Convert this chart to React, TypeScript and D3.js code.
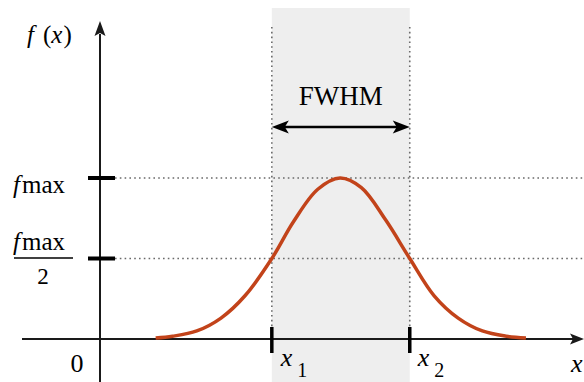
import React from 'react';
import * as d3 from 'd3';

const W = 584;
const H = 382;

// curve samples (x in axis units, y as a fraction of f_max)
const curveX = [1.15, 1.5, 2.0, 2.5, 3.0, 3.55, 4.0, 4.5, 4.96, 5.4, 5.9, 6.4, 6.9, 7.4, 7.9, 8.4, 8.8];
const curveY = [0.006, 0.017, 0.05, 0.13, 0.27, 0.5, 0.73, 0.93, 1, 0.94, 0.74, 0.5, 0.27, 0.13, 0.05, 0.017, 0.006];
// half maximum crossings x1, x2
const fwhmX = [3.55, 6.4];
// f_max and f_max/2
const levels = [1, 0.5];

const serif = '"Liberation Serif", "Times New Roman", serif';
const ink = '#1a1a1a';
const txt = { fontFamily: serif };

export default function App() {
  const x = d3.scaleLinear().domain([0, 10]).range([100, 584]);
  const y = d3.scaleLinear().domain([0, 1]).range([339, 178]);

  const line = d3.line<number>()
    .x((d, i) => x(curveX[i]))
    .y(d => y(d))
    .curve(d3.curveCatmullRom.alpha(0.5));

  const x0 = x(0);
  const y0 = y(0);
  const [x1, x2] = fwhmX.map(v => x(v));
  const arrowY = 127;

  return (
    <svg width={W} height={H} style={{ position: 'absolute', left: 0, top: 0, background: '#fff' }}>
      {/* shaded FWHM band */}
      <rect x={x1} y={8} width={x2 - x1} height={H - 8} fill="#eeeeee" />

      {/* dotted guide lines */}
      {fwhmX.map((v, i) => (
        <line key={'v' + i} x1={x(v)} x2={x(v)} y1={27} y2={y0 - 12}
          stroke="#6a6a6a" strokeWidth={1.6} strokeDasharray="1.6,3.2" />
      ))}
      {levels.map((v, i) => (
        <line key={'h' + i} x1={x0 + 15} x2={W} y1={y(v)} y2={y(v)}
          stroke="#6a6a6a" strokeWidth={1.6} strokeDasharray="1.6,3.2" />
      ))}

      {/* axes */}
      <line x1={22} x2={W - 10} y1={y0} y2={y0} stroke={ink} strokeWidth={2} />
      <path d={`M${W},${y0} L${W - 14},${y0 - 5.5} L${W - 11},${y0} L${W - 14},${y0 + 5.5} Z`} fill={ink} />
      <line x1={x0} x2={x0} y1={H} y2={34} stroke={ink} strokeWidth={2} />
      <path d={`M${x0},21 L${x0 - 5.5},36 L${x0},33 L${x0 + 5.5},36 Z`} fill={ink} />

      {/* ticks */}
      {fwhmX.map((v, i) => (
        <line key={'tx' + i} x1={x(v)} x2={x(v)} y1={y0 - 12} y2={y0 + 14} stroke="#000" strokeWidth={3.5} />
      ))}
      {levels.map((v, i) => (
        <line key={'ty' + i} x1={x0 - 12} x2={x0 + 15} y1={y(v)} y2={y(v)} stroke="#000" strokeWidth={4} />
      ))}

      {/* curve */}
      <path d={line(curveY) ?? ''} fill="none" stroke="#c2431a" strokeWidth={3.5} strokeLinecap="butt" />

      {/* FWHM arrow */}
      <line x1={x1 + 10} x2={x2 - 10} y1={arrowY} y2={arrowY} stroke="#000" strokeWidth={2.5} />
      <path d={`M${x1},${arrowY} L${x1 + 17},${arrowY - 6.5} L${x1 + 13},${arrowY} L${x1 + 17},${arrowY + 6.5} Z`} fill="#000" />
      <path d={`M${x2},${arrowY} L${x2 - 17},${arrowY - 6.5} L${x2 - 13},${arrowY} L${x2 - 17},${arrowY + 6.5} Z`} fill="#000" />
      <text style={txt} x={(x1 + x2) / 2} y={105} textAnchor="middle" fontSize={27} fill="#000">FWHM</text>

      {/* y labels */}
      <text style={txt} x={27} y={43} fontSize={25} fill="#000">
        <tspan fontStyle="italic">f</tspan>
        <tspan dx={9}>(</tspan>
        <tspan fontStyle="italic">x</tspan>
        <tspan dx={1}>)</tspan>
      </text>
      <text style={txt} x={13} y={193} fontSize={25} fill="#000">
        <tspan fontStyle="italic">f</tspan>
        <tspan dx={2}>max</tspan>
      </text>
      <text style={txt} x={13} y={250} fontSize={25} fill="#000">
        <tspan fontStyle="italic">f</tspan>
        <tspan dx={2}>max</tspan>
      </text>
      <line x1={14} x2={73} y1={258} y2={258} stroke="#000" strokeWidth={1.5} />
      <text style={txt} x={43} y={284} textAnchor="middle" fontSize={23} fill="#000">2</text>

      {/* x labels */}
      <text style={txt} x={77} y={372} textAnchor="middle" fontSize={26} fill="#000">0</text>
      <text style={txt} x={x1 + 9} y={366} fontSize={26} fill="#000">
        <tspan fontStyle="italic">x</tspan>
        <tspan dx={5} dy={11} fontSize={20}>1</tspan>
      </text>
      <text style={txt} x={x2 + 8} y={366} fontSize={26} fill="#000">
        <tspan fontStyle="italic">x</tspan>
        <tspan dx={5} dy={11} fontSize={20}>2</tspan>
      </text>
      <text style={txt} x={571} y={372} fontSize={26} fontStyle="italic" fill="#000">x</text>
    </svg>
  );
}
